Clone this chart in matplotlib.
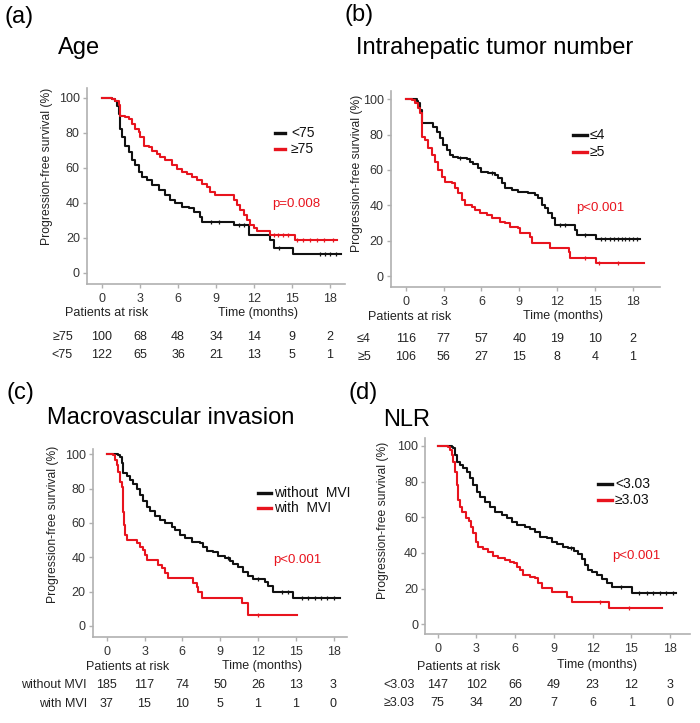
import numpy as np
import matplotlib
matplotlib.use('Agg')
import matplotlib.pyplot as plt
from matplotlib import transforms
from matplotlib.lines import Line2D

plt.rcParams['font.family'] = ['Liberation Sans', 'DejaVu Sans']

W, H = 700, 723
RED = '#e8141e'
BLACK = '#111111'
GRAY = '#b0b0b0'

x_ticks = [0, 3, 6, 9, 12, 15, 18]
y_ticks = [0, 20, 40, 60, 80, 100]

# ---- (a) Age ----
a_lt75_t = [0, 0.8, 1.05, 1.18, 1.32, 1.45, 1.58, 1.84, 2.1, 2.37, 2.63, 2.9, 3.16, 3.55, 3.95, 4.47,
            5.0, 5.4, 5.79, 6.3, 6.84, 7.24, 7.76, 7.9, 10.4, 11.58, 13.3, 13.55, 15.1, 18.9]
a_lt75_s = [100, 99, 98, 95, 90.6, 82, 77.4, 72.6, 68.9, 64.2, 61.3, 57.5, 54.7, 52.8, 50, 47.2,
            44.3, 41.5, 39.6, 37.7, 36.8, 34.9, 32, 29.2, 27.4, 21.7, 18.9, 14.2, 10.8, 10.8]
a_ge75_t = [0, 0.8, 1.05, 1.32, 1.45, 1.84, 2.1, 2.37, 2.63, 2.9, 3.03, 3.29, 3.68, 3.95, 4.34, 4.6,
            5.0, 5.53, 5.92, 6.3, 6.7, 7.1, 7.5, 7.9, 8.3, 8.55, 8.95, 10.4, 10.66, 10.9, 11.2, 11.45,
            11.7, 11.97, 12.2, 13.3, 15.2, 18.55]
a_ge75_s = [100, 99, 98, 96, 89.6, 88.7, 87.7, 84.9, 82, 80.2, 77.4, 72.6, 71.7, 69.8, 67.9, 66,
            64.2, 61.3, 59.4, 57.5, 56.6, 54.7, 52.8, 50.9, 49, 46.2, 44.3, 41.5, 38.7, 35.8, 33, 30.2,
            27.4, 25.5, 23.6, 21.3, 18.9, 18.9]
a_lt75_cens = [8.6, 9.2, 10.8, 11.2, 14.0, 17.2, 17.6, 18.0, 18.5]
a_ge75_cens = [13.6, 13.9, 14.3, 14.7, 15.4, 15.9, 16.4, 17.0, 17.5, 18.2]
a_groups = ['≥75', '<75']
a_risk = [[100, 68, 48, 34, 14, 9, 2], [122, 65, 36, 21, 13, 5, 1]]

# ---- (b) Intrahepatic tumor number ----
b_le4_t = [0, 0.87, 1.0, 1.13, 1.27, 2.19, 2.45, 2.72, 2.98, 3.25, 3.5, 3.77, 4.17, 4.83, 5.1, 5.36,
           5.75, 6.0, 6.54, 7.07, 7.33, 7.6, 7.86, 8.4, 8.92, 9.7, 10.24, 10.5, 10.77, 11.03, 11.3,
           11.56, 11.82, 13.4, 13.54, 15.04, 18.55]
b_le4_s = [100, 99, 97.7, 94, 86.4, 84.5, 81.7, 77.9, 74.2, 71.3, 68.5, 67.2, 66.6, 66, 64.7, 63.4,
           60.9, 59, 58.1, 57.2, 55.3, 52.5, 49.6, 48.7, 47.7, 46.8, 45.8, 44, 40.2, 38.3, 35.5,
           32.6, 28.9, 26, 23.2, 20.8, 20.8]
b_ge5_t = [0, 0.47, 0.74, 1.0, 1.13, 1.27, 1.53, 1.79, 2.06, 2.32, 2.59, 2.85, 3.11, 3.64, 3.9, 4.17,
           4.49, 4.7, 5.22, 5.49, 5.88, 6.41, 6.8, 7.47, 7.86, 8.26, 8.92, 9.05, 9.84, 9.97, 11.42,
           12.93, 13.0, 15.1, 18.9]
b_ge5_s = [100, 99.6, 97.7, 94.9, 92, 78.9, 77, 72.3, 68.5, 64.7, 60, 56.2, 53.4, 52.5, 49.6, 46.8,
           43, 40.2, 39.2, 37.4, 35.5, 34.5, 32.6, 30.8, 29.8, 27.9, 27, 24.2, 22.3, 18.5, 15.7,
           13.8, 10, 7.5, 7.5]
b_le4_cens = [4.3, 6.8, 12.2, 12.6, 14.2, 15.5, 15.8, 16.2, 16.5, 16.8, 17.1, 17.4, 17.7, 18.0, 18.3]
b_ge5_cens = [14.2, 15.3, 16.8]
b_groups = ['≤4', '≥5']
b_risk = [[116, 77, 57, 40, 19, 10, 2], [106, 56, 27, 15, 8, 4, 1]]

# ---- (c) Macrovascular invasion ----
c_wo_t = [0, 0.93, 1.06, 1.24, 1.32, 1.59, 1.85, 2.12, 2.38, 2.65, 2.91, 3.17, 3.44, 3.84, 4.23, 4.63,
          5.16, 5.42, 5.82, 6.22, 6.75, 7.4, 7.67, 7.94, 8.47, 8.86, 9.4, 9.79, 10.05, 10.45, 10.85,
          11.24, 11.64, 12.57, 12.83, 13.23, 14.81, 18.5]
c_wo_s = [100, 99.5, 98.6, 94.8, 88.9, 87.6, 85, 82.5, 79.8, 76.3, 72.8, 69.5, 67, 64.3, 61.7, 59.8,
          57.9, 55.9, 53, 51, 49.1, 48.2, 46.2, 43.7, 42.9, 41, 39.4, 38.1, 36.1, 34.2, 31.7,
          29.3, 27.2, 25.8, 23.5, 20, 16.5, 16.5]
c_with_t = [0, 0.53, 0.66, 0.79, 0.93, 1.06, 1.19, 1.32, 1.4, 1.46, 1.59, 2.38, 2.65, 2.91, 3.04, 3.17,
            4.1, 4.37, 4.63, 4.85, 6.88, 7.14, 7.28, 7.54, 10.71, 11.24, 15.1]
c_with_s = [100, 99.6, 96.7, 93.8, 89.9, 84, 81.2, 66.6, 58.8, 53, 50.1, 48.2, 46.2, 44.3, 41.4, 38.4,
            35.5, 33.6, 30.7, 27.8, 24.9, 22.9, 20, 16.5, 13.2, 6.4, 6.4]
c_wo_cens = [9.6, 12.0, 13.9, 14.4, 15.5, 16.0, 16.5, 17.0, 17.5, 18.0]
c_with_cens = [12.0]
c_groups = ['without MVI', 'with MVI']
c_risk = [[185, 117, 74, 50, 26, 13, 3], [37, 15, 10, 5, 1, 1, 0]]

# ---- (d) NLR ----
d_lt_t = [0, 1.09, 1.21, 1.34, 1.47, 1.73, 1.99, 2.25, 2.51, 2.76, 3.02, 3.28, 3.67, 4.06, 4.44, 4.96,
          5.35, 5.74, 6.12, 6.77, 7.16, 7.55, 7.93, 8.45, 8.84, 9.22, 9.74, 10.13, 10.6, 10.9, 11.16,
          11.42, 11.68, 11.94, 12.33, 12.71, 13.1, 13.49, 15.04, 18.5]
d_lt_s = [100, 99.5, 98.7, 95, 91.2, 89.3, 87.4, 85.6, 81.9, 78.1, 74.4, 71.6, 68.8, 66, 63.2, 61.3,
          59.4, 57.2, 55.7, 54.8, 53.5, 52, 49.2, 48.2, 46.4, 44.9, 43.6, 42.6, 41.1, 39.3, 36.6,
          33.3, 30.5, 29.2, 27.7, 25.4, 23, 21.1, 17.4, 17.4]
d_ge_t = [0, 0.83, 0.96, 1.09, 1.21, 1.34, 1.47, 1.55, 1.73, 1.91, 2.17, 2.43, 2.58, 2.76, 2.97, 3.15,
          3.54, 3.93, 4.32, 4.7, 5.22, 5.61, 5.94, 6.12, 6.38, 6.64, 7.16, 7.55, 7.8, 8.06, 8.84,
          10.0, 10.39, 13.28, 17.36]
d_ge_s = [100, 99.5, 97.8, 95, 91.2, 85.6, 78.1, 69.7, 66, 62.8, 59.4, 57.9, 54.8, 51, 46.4, 43.6,
          42.2, 40.4, 38.5, 37, 36.1, 35.1, 34.2, 32.3, 30.5, 27.7, 26.7, 25.8, 23, 20.2, 18.3,
          15.5, 12.7, 9.3, 9.3]
d_lt_cens = [10.3, 14.2, 15.6, 16.2, 16.7, 17.2, 17.7, 18.2]
d_ge_cens = [12.6, 14.8]
d_groups = ['<3.03', '≥3.03']
d_risk = [[147, 102, 66, 49, 23, 12, 3], [75, 34, 20, 7, 6, 1, 0]]

fig = plt.figure(figsize=(W / 100, H / 100), dpi=100)


def fx(px):
    return px / W


def fy(py):
    return 1 - py / H


def make_axes(x0, x18, y0, y100, xlim, ylim):
    # place the axes so that t=0/18 and S=0/100 land on the given pixels
    kx = (x18 - x0) / 18
    ky = (y0 - y100) / 100
    left = x0 + xlim[0] * kx
    right = x0 + xlim[1] * kx
    top = y0 - ylim[1] * ky
    bottom = y0 - ylim[0] * ky
    ax = fig.add_axes([left / W, 1 - bottom / H, (right - left) / W, (bottom - top) / H])
    ax.set_xlim(xlim)
    ax.set_ylim(ylim)
    for side in ['top', 'right']:
        ax.spines[side].set_visible(False)
    for side in ['left', 'bottom']:
        ax.spines[side].set_color(GRAY)
        ax.spines[side].set_linewidth(1.2)
    ax.set_xticks(x_ticks)
    ax.set_yticks(y_ticks)
    ax.tick_params(axis='both', colors=GRAY, labelcolor='#333333', labelsize=9, length=3, width=1)
    ax.tick_params(axis='x', pad=3.5)
    ax.tick_params(axis='y', pad=2)
    return ax


def draw_curve(ax, t, s, cens, color):
    t = np.array(t)
    s = np.array(s)
    ax.step(t, s, where='post', color=color, lw=1.5, clip_on=False, zorder=3)
    idx = np.searchsorted(t, cens, side='right') - 1
    ax.plot(cens, s[idx], ls='none', marker='|', ms=3.5, mew=0.9, color=color, zorder=4)


panels = [
    dict(tag='(a)', tag_xy=(5, 17), title='Age', title_xy=(58, 48),
         geom=(102, 330, 272.7, 97.7), xlim=(-1.2, 19.2), ylim=(-6.5, 105.5),
         black=(a_lt75_t, a_lt75_s, a_lt75_cens), red=(a_ge75_t, a_ge75_s, a_ge75_cens),
         leg=['<75', '≥75'], leg_xy=(275, 285, 291, 132.7, 149),
         p='p=0.008', p_xy=(271.7, 204), ylab_xy=(47, 166),
         par_xy=(65, 313), time_x=218, axis_y=313,
         groups=a_groups, risk=a_risk, row_x=73, rows_y=(337, 355)),
    dict(tag='(b)', tag_xy=(345, 15), title='Intrahepatic tumor number', title_xy=(356, 48),
         geom=(405.7, 633, 276, 99.3), xlim=(-1.2, 20.1), ylim=(-6, 104.5),
         black=(b_le4_t, b_le4_s, b_le4_cens), red=(b_ge5_t, b_ge5_s, b_ge5_cens),
         leg=['≤4', '≥5'], leg_xy=(573, 587, 590, 135, 151.7),
         p='p<0.001', p_xy=(575.7, 208), ylab_xy=(357, 173),
         par_xy=(368, 316.5), time_x=523, axis_y=316.5,
         groups=b_groups, risk=b_risk, row_x=371, rows_y=(339, 357)),
    dict(tag='(c)', tag_xy=(6, 393), title='Macrovascular invasion', title_xy=(47, 418),
         geom=(106.7, 333.5, 626, 454.3), xlim=(-1.11, 19.05), ylim=(-6.2, 103),
         black=(c_wo_t, c_wo_s, c_wo_cens), red=(c_with_t, c_with_s, c_with_cens),
         leg=['without  MVI', 'with  MVI'], leg_xy=(258, 271, 274, 493.3, 508.3),
         p='p<0.001', p_xy=(272.7, 560), ylab_xy=(53, 524),
         par_xy=(86, 667.5), time_x=222, axis_y=666,
         groups=c_groups, risk=c_risk, row_x=87, rows_y=(685, 704)),
    dict(tag='(d)', tag_xy=(348, 393), title='NLR', title_xy=(383, 420),
         geom=(437.7, 670, 624.3, 446), xlim=(-0.98, 19.55), ylim=(-5.6, 104.3),
         black=(d_lt_t, d_lt_s, d_lt_cens), red=(d_ge_t, d_ge_s, d_ge_cens),
         leg=['<3.03', '≥3.03'], leg_xy=(598, 612, 615, 484, 500),
         p='p<0.001', p_xy=(611.7, 556), ylab_xy=(383, 520),
         par_xy=(417, 667), time_x=557, axis_y=665,
         groups=d_groups, risk=d_risk, row_x=415, rows_y=(685, 703)),
]

for pn in panels:
    fig.text(fx(pn['tag_xy'][0]), fy(pn['tag_xy'][1]), pn['tag'], fontsize=17, va='center', ha='left')
    fig.text(fx(pn['title_xy'][0]), fy(pn['title_xy'][1]), pn['title'], fontsize=17, va='center', ha='left')

    ax = make_axes(*pn['geom'], pn['xlim'], pn['ylim'])
    draw_curve(ax, *pn['black'], BLACK)
    draw_curve(ax, *pn['red'], RED)

    # legend drawn by hand (short thick handles)
    lx1, lx2, tx, ly1, ly2 = pn['leg_xy']
    for lab, ly, col in zip(pn['leg'], [ly1, ly2], [BLACK, RED]):
        fig.add_artist(Line2D([fx(lx1), fx(lx2)], [fy(ly), fy(ly)], transform=fig.transFigure,
                              color=col, lw=2.4))
        fig.text(fx(tx), fy(ly), lab, fontsize=10, va='center', ha='left', color='#111111')

    fig.text(fx(pn['p_xy'][0]), fy(pn['p_xy'][1]), pn['p'], fontsize=9.5, color=RED,
             va='center', ha='left')
    fig.text(fx(pn['ylab_xy'][0]), fy(pn['ylab_xy'][1]), 'Progression-free survival (%)',
             fontsize=8.7, rotation=90, va='center', ha='center', color='#222222')

    fig.text(fx(pn['par_xy'][0]), fy(pn['par_xy'][1]), 'Patients at risk', fontsize=9,
             va='center', ha='left', color='#222222')
    fig.text(fx(pn['time_x']), fy(pn['axis_y']), 'Time (months)', fontsize=9,
             va='center', ha='left', color='#222222')

    # numbers at risk under each time tick
    blend = transforms.blended_transform_factory(ax.transData, fig.transFigure)
    for grp, counts, ry in zip(pn['groups'], pn['risk'], pn['rows_y']):
        fig.text(fx(pn['row_x']), fy(ry), grp, fontsize=9, va='center', ha='right', color='#222222')
        for xt, n in zip(x_ticks, counts):
            ax.text(xt, fy(ry), str(n), transform=blend, fontsize=9, va='center', ha='center',
                    color='#222222', clip_on=False)

fig.savefig('out.png', dpi=100)
